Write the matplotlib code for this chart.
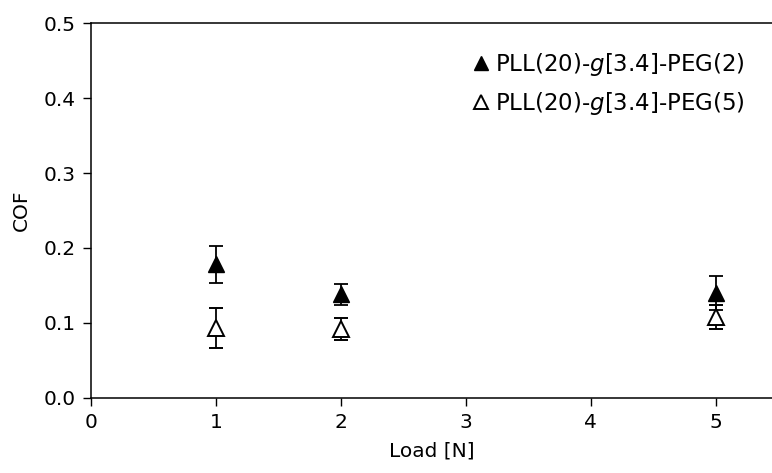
import matplotlib
matplotlib.use("Agg")
import matplotlib.pyplot as plt
from matplotlib.ticker import FormatStrFormatter

# COF vs load for the two brush polymers (mean +/- sd)
load = [1, 2, 5]
cof_peg2 = [0.178, 0.138, 0.140]
err_peg2 = [0.025, 0.014, 0.023]
cof_peg5 = [0.093, 0.092, 0.108]
err_peg5 = [0.027, 0.015, 0.016]

label_peg2 = r"PLL(20)-$\mathit{g}$[3.4]-PEG(2)"
label_peg5 = r"PLL(20)-$\mathit{g}$[3.4]-PEG(5)"

plt.rcParams["font.family"] = "DejaVu Sans"
plt.rcParams["mathtext.fontset"] = "dejavusans"

fig = plt.figure(figsize=(7.72, 4.73), dpi=100)
ax = fig.add_axes([0.118, 0.159, 0.882, 0.792])

ax.errorbar(load, cof_peg2, yerr=err_peg2, fmt="^", color="black",
            markersize=11.5, mfc="black", ecolor="black", elinewidth=1.3,
            capsize=5, capthick=1.3, label=label_peg2)
ax.errorbar(load, cof_peg5, yerr=err_peg5, fmt="^", color="black",
            markersize=11.5, mfc="white", mew=1.4, ecolor="black",
            elinewidth=1.3, capsize=5, capthick=1.3, label=label_peg5)

ax.set_xlim(0, 5.45)
ax.set_ylim(0, 0.5)
ax.set_xticks(range(0, 6))
ax.set_yticks([0.0, 0.1, 0.2, 0.3, 0.4, 0.5])
ax.yaxis.set_major_formatter(FormatStrFormatter("%.1f"))
ax.tick_params(direction="out", length=6, width=1, labelsize=14.5, pad=5)
ax.spines["right"].set_visible(False)
for side in ("left", "top", "bottom"):
    ax.spines[side].set_linewidth(1.1)

ax.set_xlabel("Load [N]", fontsize=14.5, labelpad=7)
ax.set_ylabel("COF", fontsize=14.5, labelpad=9)

# legend entries show only the markers
handles, labels = ax.get_legend_handles_labels()
handles = [h[0] for h in handles]
ax.legend(handles, labels, loc="upper right", bbox_to_anchor=(0.99, 0.98),
          frameon=False, fontsize=16.5, handlelength=0.6, handletextpad=0.3,
          labelspacing=0.5, markerscale=0.9)

fig.savefig("out.png", dpi=100)
